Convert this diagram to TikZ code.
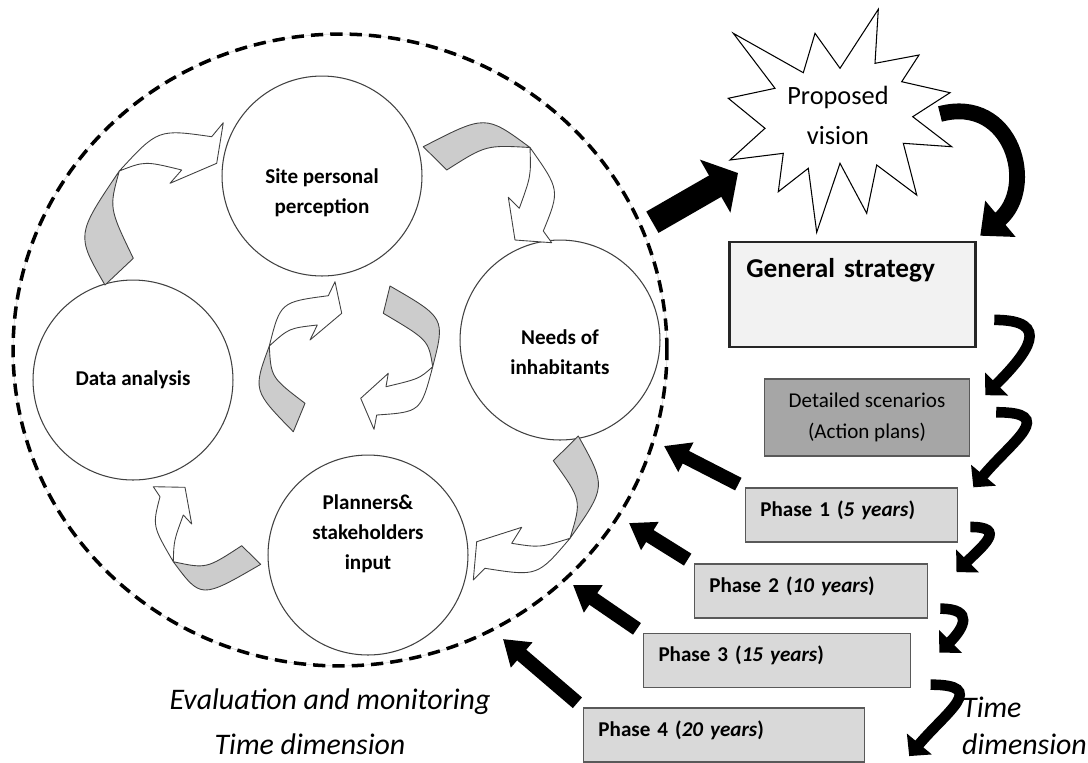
\documentclass[tikz,border=0pt]{standalone}
\usepackage{fontspec}
\setmainfont{Carlito}
\usetikzlibrary{arrows.meta}
\usetikzlibrary{shapes.geometric}

\definecolor{bandgray}{HTML}{CCCCCC}
\definecolor{edgegray}{HTML}{404040}
\definecolor{gsfill}{HTML}{F2F2F2}
\definecolor{dsfill}{HTML}{A6A6A6}
\definecolor{phfill}{HTML}{D9D9D9}
\definecolor{boxline}{HTML}{595959}

\begin{document}
\begin{tikzpicture}[x=0.02cm,y=-0.02cm,
    ring node/.style={circle,draw=edgegray,line width=0.6pt,minimum size=4cm,inner sep=0pt},
    ring text/.style={align=center,font=\bfseries\fontsize{12}{17}\selectfont},
    box node/.style={rectangle,draw=boxline,line width=0.9pt},
    phase node/.style={box node,fill=phfill,inner xsep=8.5pt,inner ysep=0pt,
        text height=15.9pt,text depth=14.7pt,align=left,text width=#1,
        font=\bfseries\fontsize{12}{14}\selectfont},
    back band/.style={fill=bandgray,draw=edgegray,line width=0.5pt,line join=round},
    front band/.style={fill=white,draw=edgegray,line width=0.5pt,line join=round},
    feedback/.style={line width=8pt,-{Triangle[length=14pt,width=18pt]},shorten <=4pt},
    vision flow/.style={line width=14pt,-{Triangle[length=15pt,width=34pt]}},
    time flow/.style={line width=6pt,-{Triangle[length=9pt,width=18pt]}},
    big time flow/.style={line width=9pt,-{Triangle[length=15pt,width=26pt]}},
    label text/.style={font=\itshape\fontsize{17}{21}\selectfont}]

  \useasboundingbox (0,0) rectangle (1088,762);

  \node[ellipse,draw=black,line width=2pt,dash pattern=on 7pt off 4pt,
        minimum width=13.08cm,minimum height=12.64cm,inner sep=0pt,
        preaction={draw=black!15,line width=0.4pt,solid}] (Ring) at (340,350) {};

  \node[ring node] (Site) at (322,176) {};
  \node[ring node] (Data) at (133,380) {};
  \node[ring node] (Needs) at (560,340) {};
  \node[ring node] (Plan) at (368,555) {};

  \node[ring text] (SiteT) at ([yshift=-9.6pt]Site.center) {Site personal\\perception};
  \node[ring text] (DataT) at (Data.center) {Data analysis};
  \node[ring text] (NeedsT) at ([yshift=-7pt]Needs.center) {Needs of\\inhabitants};
  \node[ring text] (PlanT) at ([yshift=11.9pt]Plan.center) {Planners\&\\stakeholders\\input};

  \filldraw[back band] (105,285) .. controls (76,235) .. (119.3,171)
      .. controls (109,208) .. (133.3,258.3) -- cycle;
  \filldraw[front band] (119.3,171) .. controls (158,129) .. (211.7,136.7)
      -- (223.3,122.7) -- (216.7,163.3) -- (170,183.3) -- (181.7,170)
      .. controls (145,161) .. (119.3,171) -- cycle;

  \filldraw[back band] (423.3,146.7) .. controls (485.5,114.6) .. (530,147.5)
      .. controls (486,145) .. (446.7,170) -- cycle;
  \filldraw[front band] (530,147.5) .. controls (560,190) .. (543.3,231)
      -- (551.7,242.7) -- (515,240) -- (508.3,197.3) -- (519.3,208.3)
      .. controls (531,176) .. (530,147.5) -- cycle;

  \filldraw[back band] (578.3,436) .. controls (606.4,486.6) .. (570,538.3)
      .. controls (581.7,500.2) .. (553.3,460.7) -- cycle;
  \filldraw[front band] (570,538.3) .. controls (537.5,576.5) .. (485,568.3)
      -- (473.3,580) -- (476.7,541.7) -- (521.7,527.3) -- (511.7,543.3)
      .. controls (539.7,547.7) .. (570,538.3) -- cycle;

  \filldraw[back band] (241.7,545.7) .. controls (206.4,568.8) .. (173.3,561.7)
      .. controls (201,599) .. (260.7,564.3) -- cycle;
  \filldraw[front band] (173.3,561.7) .. controls (152.4,525.9) .. (160,496.7)
      -- (153.3,486.7) -- (185,487.3) -- (191.7,524) -- (183.3,515)
      .. controls (173.9,540.6) .. (173.3,561.7) -- cycle;

  \filldraw[back band] (293.3,431.7) .. controls (252.9,390.4) .. (269.3,346)
      .. controls (271,377.4) .. (305,403.3) -- cycle;
  \filldraw[front band] (269.3,346) .. controls (280.4,302) .. (328.3,295.7)
      -- (335,281.7) -- (341.7,313.3) -- (310,340) -- (317.3,325)
      .. controls (288.9,328.2) .. (269.3,346) -- cycle;

  \filldraw[back band] (390,286) .. controls (445.2,317.9) .. (432.7,366.7)
      .. controls (428.4,340) .. (383.3,313.3) -- cycle;
  \filldraw[front band] (432.7,366.7) .. controls (420.7,412) .. (376.7,415)
      -- (374,429.3) -- (360.7,398.3) -- (388.3,373.3) -- (386,386.7)
      .. controls (419.2,378.8) .. (432.7,366.7) -- cycle;

  \filldraw[fill=white,draw=black,line width=0.6pt,line join=miter]
      (878.3,9.3) -- (875,63.3) -- (919,55) -- (901.7,81.7) -- (950,92.7)
      -- (912.7,116.7) -- (951.7,146.7) -- (903.3,143.3) -- (916.7,195)
      -- (876.7,165) -- (866.7,213.3) -- (840,163.3) -- (816.7,232.3)
      -- (808.3,168.3) -- (778.3,191.7) -- (783.3,153.3) -- (730,160)
      -- (765,128.3) -- (728.3,98.3) -- (775,88.3) -- (733.3,33.3)
      -- (803.3,72.7) -- (815,33.3) -- (840,68.3) -- cycle;
  \node[font=\fontsize{15}{22.7}\selectfont,align=center] (V) at (838,115) {Proposed\\vision};

  \node[box node,draw=black!85,line width=1.4pt,fill=gsfill,inner xsep=9.6pt,inner ysep=0pt,
        text width=120.8pt,text height=19.8pt,text depth=39.7pt,align=left,
        font=\bfseries\fontsize{15.5}{18}\selectfont] (GS) at (852.5,294.5) {General strategy};
  \node[box node,fill=dsfill,minimum width=116.8pt,minimum height=43.7pt,align=center,
        font=\fontsize{12}{17.5}\selectfont] (DS) at (867,417.5) {Detailed scenarios\\(Action plans)};
  \node[phase node=103.8pt] (P1) at (851.5,515) {Phase 1 (\textit{5 years})};
  \node[phase node=115.7pt] (P2) at (811,591) {Phase 2 (\textit{10 years})};
  \node[phase node=134.9pt] (P3) at (777,660.5) {Phase 3 (\textit{15 years})};
  \node[phase node=142.9pt] (P4) at (724,735) {Phase 4 (\textit{20 years})};

  \node[label text] (Eval) at (330,702) {Evaluation and monitoring};
  \node[label text] (EvalTime) at (310,744) {Time dimension};
  \node[label text,align=left,anchor=west] (Time) at (956,726) {Time\\dimension};

  \coordinate (T1) at (664,446);
  \coordinate (T2) at (629,523);
  \coordinate (T3) at (573,585);
  \coordinate (T4) at (503,639);
  \coordinate (Vtip) at (738,173);
  \coordinate (Vright) at (940,114);

  \draw[vision flow,shorten <=6pt] (Ring.22) -- (Vtip);
  \draw[feedback] (P1.north west) -- (T1);
  \draw[feedback] (P2.north west) -- (T2);
  \draw[feedback] (P3.north west) -- (T3);
  \draw[feedback] (P4.north west) -- (T4);

  \draw[big time flow] (Vright) to[out=15,in=40,looseness=1.5] ([xshift=2pt,yshift=3pt]GS.north east);
  \draw[time flow] ([xshift=10pt,yshift=16pt]GS.south east) to[out=0,in=45,looseness=2]
      ([xshift=8.5pt,yshift=-9.6pt]DS.north east);
  \draw[time flow] ([xshift=14.7pt,yshift=3pt]DS.east) to[out=0,in=50,looseness=2]
      ([xshift=8.5pt]P1.north east);
  \draw[time flow] ([xshift=6.8pt,yshift=-6.8pt]P1.east) to[out=0,in=45,looseness=2]
      ([xshift=16pt,yshift=-5pt]P2.north east);
  \draw[time flow] ([xshift=6.8pt,yshift=5.7pt]P2.south east) to[out=0,in=45,looseness=2]
      ([xshift=16pt,yshift=4.5pt]P3.east);
  \draw[time flow] ([xshift=11pt,yshift=2pt]P3.south east) to[out=0,in=50,looseness=2]
      ([xshift=25pt,yshift=-12pt]P4.east);
\end{tikzpicture}
\end{document}
